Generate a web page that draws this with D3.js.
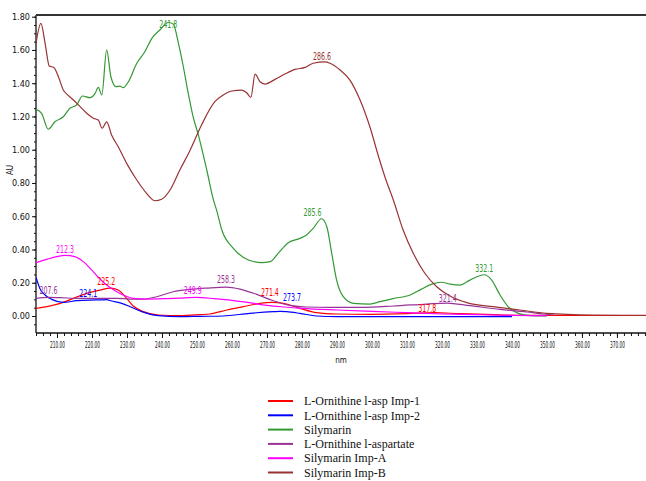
<!DOCTYPE html>
<html>
<head>
<meta charset="utf-8">
<script src="https://cdn.jsdelivr.net/npm/d3@7"></script>
<style>
  html, body { margin: 0; padding: 0; background: #fff; }
  svg { display: block; }
  .tick text { font-family: "Liberation Sans Narrow", "DejaVu Sans Condensed", "Arial Narrow", sans-serif; fill: #111; }
  .peak { font-family: "Liberation Sans Narrow", "DejaVu Sans Condensed", "Arial Narrow", sans-serif; font-size: 10px; }
  .legend text { font-family: "Liberation Serif", "Times New Roman", serif; font-size: 12px; fill: #111; }
</style>
</head>
<body>
<svg id="chart" width="646" height="481"></svg>
<script>
// Overlaid UV spectra (absorbance vs wavelength)

const seriesNames = [
  "L-Ornithine l-asp Imp-1",
  "L-Ornithine l-asp Imp-2",
  "Silymarin",
  "L-Ornithine l-aspartate",
  "Silymarin Imp-A",
  "Silymarin Imp-B"
];
const seriesColors = ["#ff0000", "#0000ff", "#339933", "#993399", "#ff00ff", "#993333"];

// wavelength (nm) / absorbance (AU) pairs for each trace
const imp1Nm = [204.0, 207.1, 210.9, 214.7, 218.5, 222.3, 225.2, 227.5, 229.9, 231.8, 234.7, 238.9, 245.1, 250.9, 253.7, 258.5, 263.2, 268.0, 271.4, 274.7, 279.4, 284.2, 289.9, 299.4, 310.0, 317.8, 325.0, 335.0, 345.0, 360.0, 378.5];
const imp1Au = [0.046, 0.056, 0.076, 0.106, 0.136, 0.156, 0.168, 0.156, 0.106, 0.060, 0.026, 0.006, 0.002, 0.008, 0.012, 0.036, 0.056, 0.076, 0.082, 0.076, 0.046, 0.020, 0.012, 0.010, 0.014, 0.020, 0.014, 0.008, 0.004, 0.003, 0.003];

const imp2Nm = [204.0, 205.1, 206.6, 208.5, 211.8, 215.6, 219.4, 222.8, 224.1, 225.6, 228.5, 230.9, 234.2, 238.9, 245.1, 250.9, 257.5, 265.1, 271.8, 273.7, 275.6, 279.4, 284.2, 290.0, 299.4, 320.0, 340.0];
const imp2Au = [0.233, 0.166, 0.126, 0.100, 0.082, 0.092, 0.096, 0.097, 0.098, 0.090, 0.076, 0.056, 0.026, 0.002, -0.004, -0.002, 0.000, 0.016, 0.026, 0.028, 0.026, 0.016, 0.000, -0.004, -0.004, -0.004, -0.004];

const silymarinNm = [204.0, 205.6, 207.5, 209.4, 211.8, 213.7, 215.6, 217.3, 219.4, 220.9, 221.8, 222.8, 224.2, 225.4, 226.9, 228.0, 228.9, 230.4, 232.8, 235.1, 237.1, 239.4, 241.8, 243.2, 244.7, 246.1, 247.5, 248.9, 250.4, 252.8, 254.7, 255.6, 257.1, 260.4, 264.7, 268.5, 270.9, 273.2, 276.1, 279.4, 281.3, 283.2, 285.6, 287.1, 288.5, 289.9, 291.8, 294.7, 299.4, 302.3, 306.0, 310.9, 314.0, 317.1, 319.9, 322.3, 325.1, 328.0, 332.1, 334.2, 336.6, 338.9, 341.8, 345.1, 350.0];
const silymarinAu = [1.243, 1.219, 1.123, 1.168, 1.198, 1.249, 1.269, 1.323, 1.313, 1.339, 1.375, 1.329, 1.600, 1.439, 1.379, 1.383, 1.373, 1.409, 1.520, 1.589, 1.670, 1.720, 1.765, 1.756, 1.640, 1.499, 1.339, 1.198, 1.088, 0.878, 0.698, 0.637, 0.517, 0.407, 0.337, 0.321, 0.327, 0.377, 0.441, 0.467, 0.487, 0.527, 0.585, 0.537, 0.377, 0.216, 0.116, 0.076, 0.072, 0.086, 0.105, 0.126, 0.160, 0.192, 0.203, 0.192, 0.186, 0.216, 0.248, 0.216, 0.126, 0.056, 0.016, 0.002, 0.000];

const lornNm = [204.0, 207.6, 210.9, 216.6, 221.3, 227.1, 230.9, 234.7, 238.5, 243.2, 248.0, 252.8, 258.3, 262.3, 267.1, 271.8, 276.6, 281.3, 288.0, 296.6, 306.1, 315.6, 321.4, 328.0, 336.6, 344.2, 349.0, 352.0];
const lornAu = [0.106, 0.112, 0.110, 0.106, 0.106, 0.106, 0.102, 0.102, 0.116, 0.146, 0.160, 0.168, 0.174, 0.162, 0.130, 0.092, 0.064, 0.054, 0.052, 0.052, 0.060, 0.072, 0.078, 0.062, 0.040, 0.024, 0.012, 0.006];

const impANm = [204.0, 207.1, 209.9, 212.3, 215.1, 217.5, 219.9, 221.8, 224.2, 226.6, 228.9, 231.8, 235.6, 240.4, 245.0, 249.9, 255.0, 260.0, 265.0, 270.0, 275.0, 280.0, 290.0, 300.0, 310.0, 320.0, 330.0, 340.0, 350.0];
const impAAu = [0.321, 0.341, 0.357, 0.365, 0.357, 0.327, 0.277, 0.233, 0.186, 0.152, 0.126, 0.106, 0.102, 0.104, 0.108, 0.112, 0.104, 0.094, 0.080, 0.064, 0.054, 0.046, 0.036, 0.028, 0.020, 0.012, 0.008, 0.004, 0.002];

const impBNm = [204.0, 205.4, 206.6, 207.8, 209.1, 210.4, 211.8, 213.2, 214.7, 216.6, 218.5, 220.4, 221.8, 222.9, 224.2, 225.6, 227.5, 229.9, 232.8, 235.6, 238.0, 239.9, 242.3, 245.1, 248.0, 251.3, 255.1, 257.5, 259.9, 262.8, 264.2, 265.4, 266.6, 268.0, 269.4, 272.3, 275.1, 278.0, 280.9, 283.2, 286.6, 288.0, 290.9, 293.7, 296.6, 299.4, 302.0, 304.0, 306.1, 308.9, 311.8, 315.1, 318.5, 322.3, 327.1, 334.7, 342.3, 349.9, 363.2, 378.5];
const impBAu = [1.640, 1.760, 1.640, 1.503, 1.495, 1.439, 1.359, 1.327, 1.299, 1.259, 1.219, 1.189, 1.179, 1.129, 1.168, 1.088, 1.018, 0.918, 0.818, 0.738, 0.693, 0.702, 0.758, 0.878, 0.995, 1.149, 1.289, 1.329, 1.353, 1.359, 1.343, 1.315, 1.455, 1.409, 1.395, 1.423, 1.455, 1.483, 1.495, 1.520, 1.528, 1.520, 1.479, 1.419, 1.299, 1.138, 0.950, 0.818, 0.698, 0.517, 0.377, 0.257, 0.176, 0.120, 0.080, 0.056, 0.036, 0.016, 0.006, 0.004];

// peak annotations: series index, wavelength, text
const peakSeries = [2, 5, 2, 2, 4, 0, 1, 3, 4, 3, 0, 1, 0, 3];
const peakNm = [241.8, 286.6, 285.6, 332.1, 212.3, 225.2, 224.1, 207.6, 249.9, 258.3, 271.4, 273.7, 317.8, 321.4];
const peakText = ["241.8", "286.6", "285.6", "332.1", "212.3", "225.2", "224.1", "207.6", "249.9", "258.3", "271.4", "273.7", "317.8", "321.4"];

const xMajorTicks = d3.range(210, 371, 10);
const yMajorTicks = [0.00, 0.20, 0.40, 0.60, 0.80, 1.00, 1.20, 1.40, 1.60, 1.80];

const xTitle = "nm";
const yTitle = "AU";

// ---------------------------------------------------------------
const svg = d3.select("#chart");
const W = 646, H = 481;
const plot = { left: 36, right: 646, top: 15, bottom: 333 };

svg.append("rect").attr("width", W).attr("height", H).attr("fill", "#fff");

const x = d3.scaleLinear().domain([204.0, 378.3]).range([plot.left, plot.right]);
const y = d3.scaleLinear().domain([0, 1.8]).range([316, 16.7]);

const series = [
  [imp1Nm, imp1Au], [imp2Nm, imp2Au], [silymarinNm, silymarinAu],
  [lornNm, lornAu], [impANm, impAAu], [impBNm, impBAu]
].map(([nm, au], i) => ({
  name: seriesNames[i],
  color: seriesColors[i],
  points: nm.map((w, k) => ({ nm: w, au: au[k] }))
}));

svg.append("defs").append("clipPath").attr("id", "plotClip")
  .append("rect")
  .attr("x", plot.left).attr("y", plot.top)
  .attr("width", plot.right - plot.left).attr("height", plot.bottom - plot.top);

// axes
const xAxisG = svg.append("g").attr("transform", `translate(0,${plot.bottom})`);
xAxisG.append("g")
  .call(d3.axisBottom(x).tickValues(d3.range(204, 379, 2)).tickSize(3).tickFormat(""))
  .call(g => g.select(".domain").remove());
xAxisG.append("g")
  .call(d3.axisBottom(x).tickValues(xMajorTicks).tickSize(5).tickPadding(4).tickFormat(d3.format(".2f")))
  .call(g => g.select(".domain").remove())
  .call(g => g.selectAll("text").attr("font-size", 8.5).attr("textLength", 15).attr("lengthAdjust", "spacingAndGlyphs"));
xAxisG.selectAll("line").attr("stroke", "#111");

const yAxisG = svg.append("g").attr("transform", `translate(${plot.left},0)`);
yAxisG.append("g")
  .call(d3.axisLeft(y).tickValues(d3.range(-1, 37).map(i => i * 0.05)).tickSize(2).tickFormat(""))
  .call(g => g.select(".domain").remove());
yAxisG.append("g")
  .call(d3.axisLeft(y).tickValues(yMajorTicks).tickSize(4).tickPadding(2).tickFormat(d3.format(".2f")))
  .call(g => g.select(".domain").remove())
  .call(g => g.selectAll("text").attr("font-size", 9));
yAxisG.selectAll("line").attr("stroke", "#111");

// frame: left axis, bottom axis, heavy top border
svg.append("line").attr("x1", plot.left).attr("x2", plot.left)
  .attr("y1", plot.top).attr("y2", plot.bottom).attr("stroke", "#111").attr("stroke-width", 1.3);
svg.append("line").attr("x1", plot.left).attr("x2", plot.right)
  .attr("y1", plot.bottom).attr("y2", plot.bottom).attr("stroke", "#111").attr("stroke-width", 1.3);
svg.append("line").attr("x1", plot.left).attr("x2", plot.right)
  .attr("y1", plot.top).attr("y2", plot.top).attr("stroke", "#333").attr("stroke-width", 2);

// axis titles
svg.append("text").attr("x", (plot.left + plot.right) / 2).attr("y", 363)
  .attr("text-anchor", "middle")
  .attr("font-family", "'Liberation Sans Narrow', 'DejaVu Sans Condensed', sans-serif")
  .attr("font-size", 8).attr("fill", "#111").text(xTitle);
svg.append("text").attr("transform", "translate(13,170) rotate(-90)")
  .attr("text-anchor", "middle")
  .attr("font-family", "'Liberation Sans Narrow', 'DejaVu Sans Condensed', sans-serif")
  .attr("font-size", 8).attr("fill", "#111").text(yTitle);

// traces
const line = d3.line().x(d => x(d.nm)).y(d => y(d.au)).curve(d3.curveMonotoneX);
const traces = svg.append("g").attr("clip-path", "url(#plotClip)");
series.forEach(s => {
  traces.append("path").datum(s.points)
    .attr("fill", "none").attr("stroke", s.color)
    .attr("stroke-width", 1.2).attr("stroke-linejoin", "round")
    .attr("d", line);
});

// peak labels, positioned on the trace at the stated wavelength
function auAt(points, w) {
  const i = d3.bisector(d => d.nm).left(points, w);
  if (i <= 0) return points[0].au;
  if (i >= points.length) return points[points.length - 1].au;
  const a = points[i - 1], b = points[i];
  return a.au + (b.au - a.au) * (w - a.nm) / (b.nm - a.nm);
}
const labelNudge = {
  "241.8": [0, 8], "285.6": [-9, 0], "225.2": [-4, 0], "224.1": [-18, 0],
  "249.9": [-4, 0], "258.3": [0, -1], "271.4": [-2, -3], "273.7": [12, -7],
  "317.8": [-7, 2], "321.4": [1, 2], "286.6": [-3, 1], "212.3": [0, 1]
};
peakText.forEach((t, i) => {
  const s = series[peakSeries[i]];
  const nudge = labelNudge[t] || [0, 0];
  svg.append("text").attr("class", "peak")
    .attr("x", x(peakNm[i]) + nudge[0])
    .attr("y", y(auAt(s.points, peakNm[i])) - 3 + nudge[1])
    .attr("text-anchor", "middle")
    .attr("textLength", 18).attr("lengthAdjust", "spacingAndGlyphs")
    .attr("fill", s.color)
    .text(t);
});

// legend
const legend = svg.append("g").attr("class", "legend");
series.forEach((s, i) => {
  const ly = 401 + i * 14.3;
  legend.append("line").attr("x1", 268).attr("x2", 293).attr("y1", ly).attr("y2", ly)
    .attr("stroke", s.color).attr("stroke-width", 2);
  legend.append("text").attr("x", 304).attr("y", ly).attr("dy", "0.35em").text(s.name);
});
</script>
</body>
</html>
